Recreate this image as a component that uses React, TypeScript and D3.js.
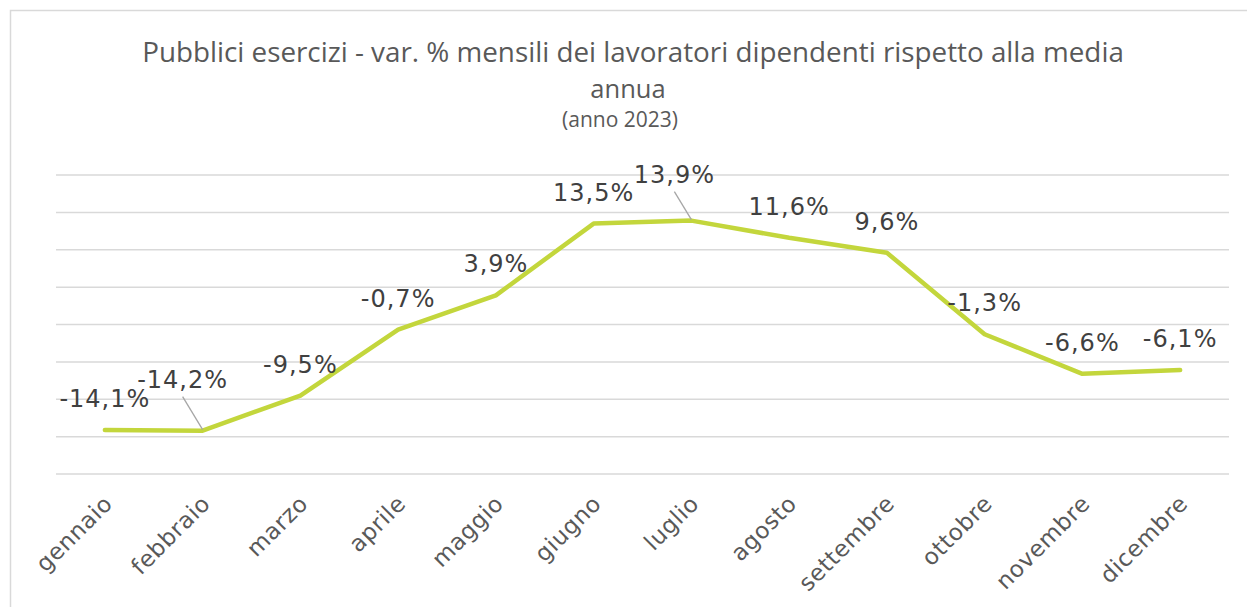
import React from "react";
import * as d3 from "d3";

const months = ["gennaio","febbraio","marzo","aprile","maggio","giugno","luglio","agosto","settembre","ottobre","novembre","dicembre"];
const values = [-14.1,-14.2,-9.5,-0.7,3.9,13.5,13.9,11.6,9.6,-1.3,-6.6,-6.1];
const labels = ["-14,1%","-14,2%","-9,5%","-0,7%","3,9%","13,5%","13,9%","11,6%","9,6%","-1,3%","-6,6%","-6,1%"];
const yDomain = [-20, 20];
const titleLines = ["Pubblici esercizi - var. % mensili dei lavoratori dipendenti rispetto alla media", "annua"];
const subtitle = "(anno 2023)";

// label offsets (leader-lined labels)
const labelOffsets: Record<number, { dx: number; dy: number; leader?: [number, number, number, number] }> = {
  1: { dx: -20, dy: -43, leader: [-20, -34, 0, -1] },
  6: { dx: -17, dy: -38, leader: [-17, -29, 0, -1] },
};

export default function App() {
  const W = 1247, H = 607;
  const x = d3.scaleBand<string>().domain(months).range([56, 1229]);
  const y = d3.scaleLinear().domain(yDomain).range([474, 175]);
  const ticks = y.ticks(8);
  const cx = (m: string) => (x(m) as number) + x.bandwidth() / 2;
  const line = d3.line<number>().x((_, i) => cx(months[i])).y((v) => y(v));
  const path = line(values) as string;

  return (
    <svg width={W} height={H} style={{ position: "absolute", left: 0, top: 0, background: "#fff" }}>
      <rect x={10.5} y={10.5} width={1260} height={640} fill="#fff" stroke="#d9d9d9" strokeWidth={1.5} />
      <text x={633} y={62} textAnchor="middle" fontFamily="'Open Sans'" fontSize={27.8} fill="#595959">{titleLines[0]}</text>
      <text x={628} y={98} textAnchor="middle" fontFamily="'Open Sans'" fontSize={25.5} fill="#595959">{titleLines[1]}</text>
      <text x={620} y={127} textAnchor="middle" fontFamily="'Open Sans'" fontSize={21} fill="#595959">{subtitle}</text>
      {ticks.map((t) => (
        <line key={t} x1={56} x2={1229} y1={y(t)} y2={y(t)} stroke="#d9d9d9" strokeWidth={1.5} />
      ))}
      <path d={path} fill="none" stroke="#c3d63c" strokeWidth={4.5} strokeLinejoin="round" strokeLinecap="round" />
      {values.map((v, i) => {
        const px = cx(months[i]);
        const py = y(v);
        const o = labelOffsets[i] || { dx: 0, dy: -23 };
        return (
          <g key={i}>
            {o.leader && (
              <line x1={px + o.leader[0]} y1={py + o.leader[1]} x2={px + o.leader[2]} y2={py + o.leader[3]} stroke="#a6a6a6" strokeWidth={1.3} />
            )}
            <text x={px + o.dx} y={py + o.dy} textAnchor="middle" fontFamily="'DejaVu Sans'" fontSize={24} letterSpacing={1} fill="#404040">{labels[i]}</text>
          </g>
        );
      })}
      {months.map((m) => (
        <text key={m} transform={`translate(${cx(m) + 9},505) rotate(-45)`} textAnchor="end" fontFamily="'DejaVu Sans'" fontSize={23} letterSpacing={0.6} fill="#595959">{m}</text>
      ))}
    </svg>
  );
}
